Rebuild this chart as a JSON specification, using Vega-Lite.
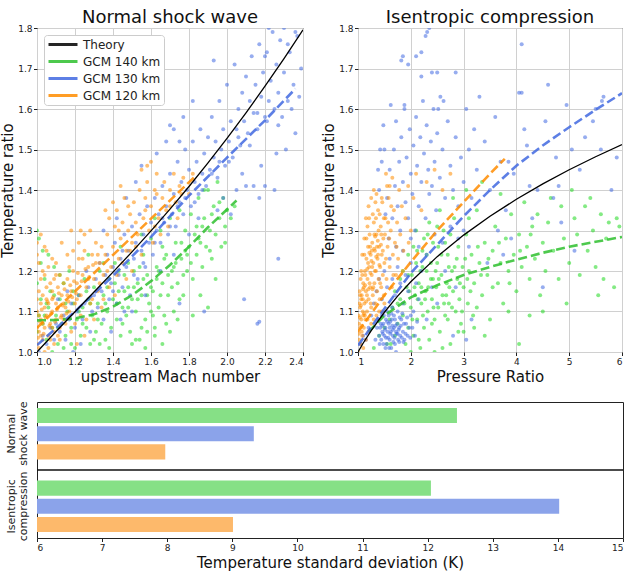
{
"$schema":"https://vega.github.io/schema/vega-lite/v6.json",
"padding":{"left":0,"top":8,"right":6,"bottom":2},
"config":{
 "font":"DejaVu Sans",
 "view":{"stroke":"#222","strokeWidth":1},
 "axis":{"labelFontSize":9,"labelColor":"#222","labelOverlap":false,"labelBound":false,"titleFontSize":15,"titleFontWeight":"normal","titleColor":"#111","gridColor":"#d0d0d0","gridWidth":1,"domain":false,"tickColor":"#222","tickSize":3.5,"labelPadding":1.5},
 "axisX":{"titlePadding":3},
 "axisY":{"titlePadding":2},
 "title":{"fontSize":18,"fontWeight":"normal","offset":-3,"color":"#111"},
 "legend":{"labelFontSize":12,"labelColor":"#222"}
},
"datasets":{
"L140":[{"x":1.00,"y":1.05},{"x":1.01,"y":1.09},{"x":1.02,"y":1.13},{"x":1.03,"y":1.07},{"x":1.04,"y":1.18},{"x":1.05,"y":1.03},{"x":1.06,"y":1.11},{"x":1.07,"y":1.15},{"x":1.08,"y":1.06},{"x":1.09,"y":1.21},{"x":1.10,"y":1.09},{"x":1.11,"y":1.02},{"x":1.12,"y":1.13},{"x":1.13,"y":1.07},{"x":1.14,"y":1.17},{"x":1.15,"y":1.04},{"x":1.16,"y":1.10},{"x":1.17,"y":1.20},{"x":1.18,"y":1.06},{"x":1.19,"y":1.12},{"x":1.20,"y":1.01},{"x":1.00,"y":1.30},{"x":1.01,"y":1.28},{"x":1.02,"y":1.22},{"x":1.00,"y":1.17},{"x":1.06,"y":1.24},{"x":1.12,"y":1.19},{"x":1.08,"y":1.00},{"x":1.14,"y":1.01},{"x":1.18,"y":1.02},
{"x":1.21,"y":1.08},{"x":1.22,"y":1.14},{"x":1.23,"y":1.04},{"x":1.24,"y":1.11},{"x":1.25,"y":1.18},{"x":1.26,"y":1.06},{"x":1.27,"y":1.13},{"x":1.28,"y":1.02},{"x":1.29,"y":1.09},{"x":1.30,"y":1.16},{"x":1.31,"y":1.05},{"x":1.32,"y":1.12},{"x":1.33,"y":1.20},{"x":1.34,"y":1.07},{"x":1.35,"y":1.14},{"x":1.36,"y":1.03},{"x":1.37,"y":1.10},{"x":1.38,"y":1.18},{"x":1.39,"y":1.06},{"x":1.40,"y":1.13},{"x":1.41,"y":1.22},{"x":1.42,"y":1.08},{"x":1.43,"y":1.15},{"x":1.44,"y":1.04},{"x":1.45,"y":1.11},{"x":1.46,"y":1.19},{"x":1.47,"y":1.09},{"x":1.48,"y":1.16},{"x":1.49,"y":1.05},{"x":1.50,"y":1.13},{"x":1.27,"y":1.24},{"x":1.33,"y":1.02},{"x":1.38,"y":1.01},{"x":1.44,"y":1.26},{"x":1.48,"y":1.22},{"x":1.30,"y":1.03},{"x":1.35,"y":1.22},
{"x":1.51,"y":1.20},{"x":1.52,"y":1.10},{"x":1.53,"y":1.17},{"x":1.54,"y":1.03},{"x":1.55,"y":1.14},{"x":1.56,"y":1.24},{"x":1.57,"y":1.08},{"x":1.58,"y":1.19},{"x":1.59,"y":1.12},{"x":1.60,"y":1.28},{"x":1.61,"y":1.15},{"x":1.62,"y":1.06},{"x":1.63,"y":1.21},{"x":1.64,"y":1.11},{"x":1.65,"y":1.30},{"x":1.66,"y":1.17},{"x":1.67,"y":1.09},{"x":1.68,"y":1.24},{"x":1.69,"y":1.14},{"x":1.70,"y":1.33},{"x":1.71,"y":1.20},{"x":1.72,"y":1.10},{"x":1.73,"y":1.27},{"x":1.74,"y":1.17},{"x":1.75,"y":1.35},{"x":1.76,"y":1.23},{"x":1.77,"y":1.14},{"x":1.78,"y":1.30},{"x":1.79,"y":1.20},{"x":1.80,"y":1.26},{"x":1.52,"y":1.03},{"x":1.57,"y":1.01},{"x":1.62,"y":1.04},{"x":1.68,"y":1.07},{"x":1.55,"y":1.29},{"x":1.62,"y":1.33},{"x":1.70,"y":1.05},{"x":1.74,"y":1.08},{"x":1.50,"y":1.02},{"x":1.58,"y":1.05},{"x":1.66,"y":1.02},
{"x":1.81,"y":1.34},{"x":1.82,"y":1.18},{"x":1.83,"y":1.29},{"x":1.84,"y":1.24},{"x":1.85,"y":1.38},{"x":1.86,"y":1.27},{"x":1.87,"y":1.21},{"x":1.88,"y":1.33},{"x":1.89,"y":1.26},{"x":1.90,"y":1.40},{"x":1.91,"y":1.30},{"x":1.92,"y":1.23},{"x":1.93,"y":1.36},{"x":1.94,"y":1.29},{"x":1.95,"y":1.42},{"x":1.96,"y":1.33},{"x":1.97,"y":1.26},{"x":1.98,"y":1.38},{"x":1.99,"y":1.31},{"x":2.00,"y":1.35},{"x":2.02,"y":1.33},{"x":2.04,"y":1.36},{"x":1.90,"y":1.11},{"x":1.86,"y":1.14},{"x":1.82,"y":1.09},{"x":1.88,"y":1.40},{"x":1.94,"y":1.18},
{"x":1.04,"y":1.09},{"x":1.09,"y":1.14},{"x":1.15,"y":1.12},{"x":1.22,"y":1.10},{"x":1.26,"y":1.15},{"x":1.32,"y":1.08},{"x":1.37,"y":1.16},{"x":1.42,"y":1.12},{"x":1.46,"y":1.15},{"x":1.53,"y":1.13},{"x":1.56,"y":1.18},{"x":1.60,"y":1.16},{"x":1.64,"y":1.20},{"x":1.67,"y":1.23},{"x":1.72,"y":1.21},{"x":1.76,"y":1.27},{"x":1.79,"y":1.24},{"x":1.84,"y":1.31},{"x":1.92,"y":1.34},{"x":1.60,"y":1.10},{"x":1.65,"y":1.14},{"x":1.71,"y":1.16},{"x":1.77,"y":1.19},
{"x":1.36,"y":1.12},{"x":1.41,"y":1.17},{"x":1.45,"y":1.07},{"x":1.51,"y":1.16},{"x":1.54,"y":1.21},{"x":1.58,"y":1.14},{"x":1.63,"y":1.18},{"x":1.66,"y":1.26},{"x":1.69,"y":1.19},{"x":1.73,"y":1.22},{"x":1.75,"y":1.13},{"x":1.78,"y":1.25},{"x":1.81,"y":1.22},{"x":1.85,"y":1.28},{"x":1.87,"y":1.31},{"x":1.91,"y":1.25},{"x":1.96,"y":1.37},{"x":1.99,"y":1.27},{"x":1.55,"y":1.06},{"x":1.61,"y":1.09},{"x":1.28,"y":1.12},{"x":1.24,"y":1.07},{"x":1.19,"y":1.15},{"x":1.11,"y":1.06},{"x":1.05,"y":1.12},{"x":1.03,"y":1.25},{"x":1.43,"y":1.20},{"x":1.48,"y":1.11}],
"L130":[{"x":1.01,"y":1.00},{"x":1.03,"y":1.04},{"x":1.05,"y":1.02},{"x":1.07,"y":1.06},{"x":1.09,"y":1.03},{"x":1.10,"y":1.07},{"x":1.12,"y":1.05},{"x":1.14,"y":1.09},{"x":1.15,"y":1.03},{"x":1.17,"y":1.08},{"x":1.18,"y":1.12},{"x":1.20,"y":1.06},{"x":1.21,"y":1.10},{"x":1.22,"y":1.14},{"x":1.24,"y":1.08},{"x":1.25,"y":1.12},{"x":1.27,"y":1.16},{"x":1.28,"y":1.05},{"x":1.29,"y":1.10},{"x":1.30,"y":1.14},{"x":1.26,"y":1.20},{"x":1.23,"y":1.02},{"x":1.19,"y":1.00},{"x":1.11,"y":1.13},{"x":1.16,"y":1.15},
{"x":1.31,"y":1.18},{"x":1.32,"y":1.11},{"x":1.33,"y":1.22},{"x":1.34,"y":1.15},{"x":1.35,"y":1.08},{"x":1.36,"y":1.19},{"x":1.37,"y":1.24},{"x":1.38,"y":1.13},{"x":1.39,"y":1.17},{"x":1.40,"y":1.21},{"x":1.41,"y":1.27},{"x":1.42,"y":1.12},{"x":1.43,"y":1.19},{"x":1.44,"y":1.23},{"x":1.45,"y":1.16},{"x":1.46,"y":1.29},{"x":1.47,"y":1.21},{"x":1.48,"y":1.25},{"x":1.49,"y":1.14},{"x":1.50,"y":1.31},{"x":1.51,"y":1.23},{"x":1.52,"y":1.27},{"x":1.53,"y":1.18},{"x":1.54,"y":1.34},{"x":1.55,"y":1.25},{"x":1.56,"y":1.29},{"x":1.57,"y":1.21},{"x":1.58,"y":1.36},{"x":1.59,"y":1.27},{"x":1.60,"y":1.32},{"x":1.42,"y":1.33},{"x":1.47,"y":1.38},{"x":1.52,"y":1.42},{"x":1.55,"y":1.46},{"x":1.35,"y":1.30},{"x":1.44,"y":1.08},{"x":1.50,"y":1.10},{"x":1.57,"y":1.14},{"x":1.39,"y":1.05},{"x":1.46,"y":1.10},
{"x":1.61,"y":1.24},{"x":1.62,"y":1.38},{"x":1.63,"y":1.30},{"x":1.64,"y":1.34},{"x":1.65,"y":1.27},{"x":1.66,"y":1.41},{"x":1.67,"y":1.32},{"x":1.68,"y":1.36},{"x":1.69,"y":1.29},{"x":1.70,"y":1.44},{"x":1.71,"y":1.34},{"x":1.72,"y":1.39},{"x":1.73,"y":1.31},{"x":1.74,"y":1.47},{"x":1.75,"y":1.37},{"x":1.76,"y":1.42},{"x":1.77,"y":1.34},{"x":1.78,"y":1.50},{"x":1.79,"y":1.40},{"x":1.80,"y":1.45},{"x":1.81,"y":1.36},{"x":1.82,"y":1.52},{"x":1.83,"y":1.42},{"x":1.84,"y":1.47},{"x":1.85,"y":1.39},{"x":1.86,"y":1.55},{"x":1.87,"y":1.44},{"x":1.88,"y":1.49},{"x":1.89,"y":1.41},{"x":1.90,"y":1.53},{"x":1.63,"y":1.49},{"x":1.68,"y":1.52},{"x":1.72,"y":1.55},{"x":1.77,"y":1.58},{"x":1.82,"y":1.62},{"x":1.65,"y":1.20},{"x":1.72,"y":1.24},{"x":1.80,"y":1.29},{"x":1.85,"y":1.33},{"x":1.70,"y":1.56},{"x":1.75,"y":1.52},
{"x":1.91,"y":1.45},{"x":1.92,"y":1.58},{"x":1.93,"y":1.48},{"x":1.94,"y":1.52},{"x":1.95,"y":1.43},{"x":1.96,"y":1.62},{"x":1.97,"y":1.50},{"x":1.98,"y":1.55},{"x":1.99,"y":1.46},{"x":2.00,"y":1.66},{"x":2.01,"y":1.52},{"x":2.02,"y":1.57},{"x":2.03,"y":1.48},{"x":2.04,"y":1.71},{"x":2.05,"y":1.55},{"x":2.06,"y":1.60},{"x":2.07,"y":1.51},{"x":2.08,"y":1.64},{"x":2.09,"y":1.57},{"x":2.10,"y":1.68},{"x":2.11,"y":1.54},{"x":2.12,"y":1.62},{"x":2.13,"y":1.73},{"x":2.14,"y":1.59},{"x":2.15,"y":1.66},{"x":2.16,"y":1.55},{"x":2.17,"y":1.76},{"x":2.18,"y":1.63},{"x":2.19,"y":1.69},{"x":2.20,"y":1.58},{"x":2.21,"y":1.74},{"x":2.22,"y":1.62},{"x":2.23,"y":1.67},{"x":2.24,"y":1.79},{"x":2.25,"y":1.60},{"x":2.26,"y":1.71},{"x":2.27,"y":1.64},{"x":2.28,"y":1.77},{"x":2.29,"y":1.58},{"x":2.30,"y":1.69},{"x":2.32,"y":1.62},{"x":2.33,"y":1.74},{"x":2.35,"y":1.66},{"x":2.37,"y":1.78},{"x":2.38,"y":1.63},{"x":2.39,"y":1.70},{"x":1.93,"y":1.72},{"x":2.05,"y":1.40},{"x":2.10,"y":1.41},{"x":2.14,"y":1.41},{"x":2.20,"y":1.41},{"x":2.25,"y":1.40},{"x":2.17,"y":1.38},{"x":2.08,"y":1.44},{"x":2.18,"y":1.46},{"x":2.31,"y":1.50},{"x":2.36,"y":1.54},{"x":2.26,"y":1.49},{"x":1.98,"y":1.38},
{"x":2.09,"y":1.13},{"x":2.16,"y":1.07},{"x":2.17,"y":1.075},{"x":2.27,"y":1.23},{"x":1.88,"y":1.10},{"x":1.75,"y":1.12},{"x":2.02,"y":1.34},{"x":1.95,"y":1.35},{"x":2.22,"y":1.80},{"x":2.36,"y":1.79},{"x":2.30,"y":1.80},{"x":2.32,"y":1.76},{"x":2.20,"y":1.73},
{"x":1.62,"y":1.27},{"x":1.66,"y":1.33},{"x":1.70,"y":1.31},{"x":1.74,"y":1.36},{"x":1.78,"y":1.38},{"x":1.83,"y":1.37},{"x":1.87,"y":1.40},{"x":1.92,"y":1.44},{"x":1.96,"y":1.47},{"x":2.01,"y":1.47},{"x":2.06,"y":1.53},{"x":2.12,"y":1.51},{"x":2.16,"y":1.59},{"x":2.21,"y":1.57},{"x":2.27,"y":1.56},{"x":2.34,"y":1.60},{"x":1.56,"y":1.22},{"x":1.51,"y":1.19},{"x":1.45,"y":1.25},{"x":1.40,"y":1.15}],
"L120":[{"x":1.00,"y":1.02},{"x":1.01,"y":1.05},{"x":1.02,"y":1.08},{"x":1.00,"y":1.10},{"x":1.03,"y":1.03},{"x":1.04,"y":1.06},{"x":1.05,"y":1.09},{"x":1.02,"y":1.12},{"x":1.06,"y":1.04},{"x":1.07,"y":1.07},{"x":1.08,"y":1.10},{"x":1.03,"y":1.14},{"x":1.09,"y":1.05},{"x":1.10,"y":1.08},{"x":1.11,"y":1.11},{"x":1.05,"y":1.13},{"x":1.12,"y":1.06},{"x":1.13,"y":1.09},{"x":1.14,"y":1.12},{"x":1.08,"y":1.15},{"x":1.01,"y":1.01},{"x":1.04,"y":1.00},{"x":1.06,"y":1.01},{"x":1.09,"y":1.02},{"x":1.12,"y":1.03},{"x":1.15,"y":1.07},{"x":1.00,"y":1.06},{"x":1.01,"y":1.09},{"x":1.02,"y":1.04},{"x":1.03,"y":1.07},{"x":1.04,"y":1.11},{"x":1.06,"y":1.12},{"x":1.07,"y":1.03},{"x":1.08,"y":1.06},{"x":1.10,"y":1.12},{"x":1.11,"y":1.04},{"x":1.13,"y":1.14},{"x":1.14,"y":1.08},{"x":1.05,"y":1.16},{"x":1.07,"y":1.17},{"x":1.00,"y":1.13},{"x":1.01,"y":1.15},{"x":1.02,"y":1.18},{"x":1.09,"y":1.18},{"x":1.11,"y":1.16},{"x":1.15,"y":1.11},{"x":1.16,"y":1.14},{"x":1.12,"y":1.19},{"x":1.03,"y":1.20},{"x":1.06,"y":1.21},
{"x":1.00,"y":1.27},{"x":1.02,"y":1.29},{"x":1.05,"y":1.25},{"x":1.01,"y":1.22},{"x":1.08,"y":1.23},{"x":1.04,"y":1.26},{"x":1.10,"y":1.22},{"x":1.13,"y":1.27},{"x":1.18,"y":1.30},{"x":1.00,"y":1.24},
{"x":1.17,"y":1.10},{"x":1.18,"y":1.15},{"x":1.19,"y":1.20},{"x":1.20,"y":1.12},{"x":1.21,"y":1.17},{"x":1.22,"y":1.23},{"x":1.23,"y":1.14},{"x":1.24,"y":1.19},{"x":1.25,"y":1.25},{"x":1.26,"y":1.16},{"x":1.27,"y":1.21},{"x":1.28,"y":1.12},{"x":1.29,"y":1.24},{"x":1.30,"y":1.18},{"x":1.31,"y":1.27},{"x":1.32,"y":1.15},{"x":1.33,"y":1.22},{"x":1.34,"y":1.26},{"x":1.35,"y":1.19},{"x":1.20,"y":1.07},{"x":1.23,"y":1.09},{"x":1.26,"y":1.08},{"x":1.29,"y":1.13},{"x":1.16,"y":1.18},{"x":1.19,"y":1.25},{"x":1.22,"y":1.27},{"x":1.25,"y":1.29},{"x":1.28,"y":1.30},{"x":1.31,"y":1.22},{"x":1.33,"y":1.17},{"x":1.18,"y":1.05},{"x":1.21,"y":1.02},{"x":1.25,"y":1.04},{"x":1.30,"y":1.08},{"x":1.34,"y":1.11},{"x":1.23,"y":1.30},
{"x":1.36,"y":1.24},{"x":1.37,"y":1.29},{"x":1.38,"y":1.33},{"x":1.39,"y":1.21},{"x":1.40,"y":1.26},{"x":1.41,"y":1.31},{"x":1.42,"y":1.35},{"x":1.43,"y":1.23},{"x":1.44,"y":1.28},{"x":1.45,"y":1.32},{"x":1.46,"y":1.38},{"x":1.47,"y":1.25},{"x":1.48,"y":1.30},{"x":1.49,"y":1.34},{"x":1.50,"y":1.27},{"x":1.51,"y":1.37},{"x":1.52,"y":1.32},{"x":1.53,"y":1.29},{"x":1.54,"y":1.40},{"x":1.38,"y":1.16},{"x":1.42,"y":1.19},{"x":1.45,"y":1.22},{"x":1.49,"y":1.25},{"x":1.36,"y":1.35},{"x":1.40,"y":1.37},{"x":1.44,"y":1.41},{"x":1.41,"y":1.14},{"x":1.47,"y":1.18},
{"x":1.56,"y":1.33},{"x":1.57,"y":1.38},{"x":1.58,"y":1.42},{"x":1.59,"y":1.30},{"x":1.60,"y":1.36},{"x":1.62,"y":1.40},{"x":1.63,"y":1.44},{"x":1.64,"y":1.33},{"x":1.66,"y":1.38},{"x":1.67,"y":1.42},{"x":1.68,"y":1.35},{"x":1.70,"y":1.40},{"x":1.72,"y":1.44},{"x":1.73,"y":1.37},{"x":1.75,"y":1.41},{"x":1.77,"y":1.43},{"x":1.80,"y":1.39},{"x":1.82,"y":1.44},{"x":1.58,"y":1.46},{"x":1.61,"y":1.27},{"x":1.65,"y":1.29},{"x":1.69,"y":1.31},{"x":1.55,"y":1.45},{"x":1.60,"y":1.47},{"x":1.74,"y":1.33},{"x":1.35,"y":1.13},{"x":1.50,"y":1.20},{"x":1.55,"y":1.24},{"x":1.62,"y":1.31},
{"x":1.005,"y":1.035},{"x":1.015,"y":1.075},{"x":1.025,"y":1.105},{"x":1.035,"y":1.045},{"x":1.045,"y":1.085},{"x":1.055,"y":1.125},{"x":1.065,"y":1.065},{"x":1.075,"y":1.095},{"x":1.085,"y":1.135},{"x":1.095,"y":1.075},{"x":1.105,"y":1.105},{"x":1.115,"y":1.145},{"x":1.125,"y":1.085},{"x":1.135,"y":1.115},{"x":1.145,"y":1.155},{"x":1.155,"y":1.095},{"x":1.165,"y":1.125},{"x":1.175,"y":1.165},{"x":1.185,"y":1.135},{"x":1.195,"y":1.175},{"x":1.205,"y":1.145},{"x":1.215,"y":1.195},{"x":1.235,"y":1.175},{"x":1.255,"y":1.205},{"x":1.275,"y":1.185},{"x":1.295,"y":1.215},
{"x":1.14,"y":1.17},{"x":1.17,"y":1.21},{"x":1.21,"y":1.13},{"x":1.24,"y":1.23},{"x":1.27,"y":1.18},{"x":1.32,"y":1.24},{"x":1.37,"y":1.20},{"x":1.43,"y":1.30},{"x":1.48,"y":1.36},{"x":1.52,"y":1.26},{"x":1.57,"y":1.35},{"x":1.63,"y":1.39},{"x":1.70,"y":1.36},{"x":1.76,"y":1.39},{"x":1.10,"y":1.19},{"x":1.16,"y":1.24},{"x":1.04,"y":1.19},{"x":1.08,"y":1.13}],
"R140":[{"x":1.30,"y":1.01},{"x":1.40,"y":1.04},{"x":1.50,"y":1.06},{"x":1.55,"y":1.02},{"x":1.60,"y":1.08},{"x":1.65,"y":1.11},{"x":1.70,"y":1.04},{"x":1.75,"y":1.07},{"x":1.80,"y":1.13},{"x":1.85,"y":1.09},{"x":1.90,"y":1.02},{"x":1.92,"y":1.16},{"x":1.95,"y":1.06},{"x":2.00,"y":1.11},{"x":2.02,"y":1.19},{"x":2.05,"y":1.04},{"x":2.08,"y":1.14},{"x":2.10,"y":1.22},{"x":2.12,"y":1.08},{"x":2.15,"y":1.17},{"x":2.18,"y":1.01},{"x":2.20,"y":1.12},{"x":2.22,"y":1.25},{"x":2.25,"y":1.06},{"x":2.28,"y":1.15},{"x":2.30,"y":1.20},{"x":2.32,"y":1.10},{"x":2.35,"y":1.03},{"x":2.38,"y":1.18},{"x":2.40,"y":1.13},{"x":2.42,"y":1.27},{"x":2.45,"y":1.08},{"x":2.48,"y":1.16},{"x":2.50,"y":1.22},{"x":2.52,"y":1.11},{"x":2.55,"y":1.05},{"x":2.58,"y":1.19},{"x":2.60,"y":1.14},{"x":2.62,"y":1.30},{"x":2.65,"y":1.09},{"x":2.68,"y":1.17},{"x":2.70,"y":1.24},{"x":2.72,"y":1.12},{"x":2.75,"y":1.02},{"x":2.78,"y":1.20},{"x":2.80,"y":1.15},{"x":2.82,"y":1.33},{"x":2.85,"y":1.10},{"x":2.88,"y":1.18},{"x":2.90,"y":1.26},{"x":2.92,"y":1.13},{"x":2.95,"y":1.07},{"x":2.98,"y":1.21},{"x":3.00,"y":1.16},{"x":3.05,"y":1.29},{"x":3.08,"y":1.12},{"x":3.10,"y":1.20},{"x":3.15,"y":1.24},{"x":3.18,"y":1.09},{"x":3.20,"y":1.17},{"x":3.25,"y":1.35},{"x":3.30,"y":1.22},{"x":3.35,"y":1.14},{"x":3.40,"y":1.27},{"x":3.45,"y":1.19},{"x":3.50,"y":1.08},{"x":3.55,"y":1.25},{"x":3.60,"y":1.31},{"x":3.65,"y":1.17},{"x":3.70,"y":1.22},{"x":3.75,"y":1.12},{"x":3.80,"y":1.28},{"x":3.85,"y":1.20},{"x":3.90,"y":1.34},{"x":3.95,"y":1.24},{"x":4.00,"y":1.15},{"x":4.05,"y":1.29},{"x":4.10,"y":1.21},{"x":4.15,"y":1.37},{"x":4.20,"y":1.26},{"x":4.25,"y":1.18},{"x":4.30,"y":1.31},{"x":4.35,"y":1.23},{"x":4.40,"y":1.34},{"x":4.45,"y":1.14},{"x":4.50,"y":1.27},{"x":4.55,"y":1.20},{"x":4.60,"y":1.32},{"x":4.70,"y":1.25},{"x":4.80,"y":1.18},{"x":4.85,"y":1.36},{"x":4.90,"y":1.28},{"x":5.00,"y":1.22},{"x":5.10,"y":1.33},{"x":5.15,"y":1.29},{"x":5.20,"y":1.19},{"x":5.30,"y":1.36},{"x":5.35,"y":1.25},{"x":5.45,"y":1.30},{"x":5.50,"y":1.21},{"x":5.60,"y":1.34},{"x":5.65,"y":1.18},{"x":5.70,"y":1.28},{"x":5.75,"y":1.32},{"x":5.85,"y":1.16},{"x":5.90,"y":1.33},{"x":5.95,"y":1.31},{"x":5.55,"y":1.14},{"x":4.95,"y":1.12},{"x":4.65,"y":1.38},{"x":3.70,"y":1.39},{"x":3.35,"y":1.42},{"x":3.05,"y":1.40},{"x":2.80,"y":1.38},{"x":2.55,"y":1.35},{"x":2.35,"y":1.32},{"x":2.10,"y":1.30},{"x":1.85,"y":1.20},{"x":1.70,"y":1.15},{"x":1.62,"y":1.02},{"x":2.00,"y":1.00},{"x":2.15,"y":1.03},{"x":2.60,"y":1.01},{"x":3.00,"y":1.05},{"x":3.40,"y":1.04},{"x":4.05,"y":1.02},{"x":2.45,"y":1.00},{"x":1.95,"y":1.24},{"x":2.25,"y":1.28},{"x":2.50,"y":1.31},{"x":2.70,"y":1.08},{"x":2.90,"y":1.05},{"x":3.25,"y":1.11},{"x":3.55,"y":1.16},{"x":3.85,"y":1.10},{"x":4.50,"y":1.10},{"x":5.05,"y":1.40},{"x":5.40,"y":1.38},{"x":4.25,"y":1.09},{"x":3.10,"y":1.33},{"x":2.30,"y":1.24},{"x":2.65,"y":1.27},{"x":2.75,"y":1.29},{"x":2.05,"y":1.26},{"x":1.80,"y":1.18},{"x":2.40,"y":1.07},{"x":2.20,"y":1.16},{"x":3.20,"y":1.06},
{"x":1.88,"y":1.12},{"x":1.97,"y":1.15},{"x":2.03,"y":1.08},{"x":2.13,"y":1.13},{"x":2.23,"y":1.09},{"x":2.33,"y":1.16},{"x":2.43,"y":1.11},{"x":2.53,"y":1.18},{"x":2.63,"y":1.12},{"x":2.73,"y":1.16},{"x":2.83,"y":1.21},{"x":2.93,"y":1.17},{"x":3.03,"y":1.23},{"x":3.13,"y":1.15},{"x":2.18,"y":1.20},{"x":2.38,"y":1.22},{"x":2.58,"y":1.24},{"x":2.78,"y":1.11},{"x":2.97,"y":1.10},{"x":3.33,"y":1.19},
{"x":2.07,"y":1.16},{"x":2.27,"y":1.13},{"x":2.47,"y":1.20},{"x":2.67,"y":1.14},{"x":2.87,"y":1.23},{"x":3.07,"y":1.18},{"x":3.27,"y":1.26},{"x":3.47,"y":1.23},{"x":3.67,"y":1.27},{"x":3.87,"y":1.17},{"x":4.07,"y":1.25},{"x":4.27,"y":1.29},{"x":2.12,"y":1.25},{"x":2.32,"y":1.29},{"x":2.52,"y":1.26},{"x":2.72,"y":1.21},{"x":1.75,"y":1.12},{"x":1.95,"y":1.19},{"x":2.22,"y":1.21},{"x":2.42,"y":1.18}],
"R130":[{"x":1.40,"y":1.04},{"x":1.42,"y":1.06},{"x":1.44,"y":1.03},{"x":1.46,"y":1.05},{"x":1.48,"y":1.07},{"x":1.50,"y":1.04},{"x":1.52,"y":1.06},{"x":1.54,"y":1.02},{"x":1.56,"y":1.05},{"x":1.58,"y":1.07},{"x":1.60,"y":1.03},{"x":1.62,"y":1.05},{"x":1.64,"y":1.08},{"x":1.66,"y":1.04},{"x":1.68,"y":1.06},{"x":1.70,"y":1.02},{"x":1.72,"y":1.05},{"x":1.74,"y":1.07},{"x":1.76,"y":1.03},{"x":1.78,"y":1.06},{"x":1.80,"y":1.04},{"x":1.82,"y":1.08},{"x":1.85,"y":1.05},{"x":1.88,"y":1.03},{"x":1.91,"y":1.07},{"x":1.94,"y":1.04},{"x":1.97,"y":1.06},{"x":2.00,"y":1.09},{"x":1.45,"y":1.09},{"x":1.55,"y":1.10},{"x":1.65,"y":1.11},{"x":1.75,"y":1.10},{"x":1.52,"y":1.01},{"x":1.63,"y":1.01},{"x":1.72,"y":1.00},{"x":1.58,"y":1.09},{"x":1.68,"y":1.09},{"x":1.48,"y":1.02},{"x":1.60,"y":1.06},{"x":1.70,"y":1.08},
{"x":1.51,"y":1.055},{"x":1.57,"y":1.035},{"x":1.61,"y":1.075},{"x":1.67,"y":1.025},{"x":1.73,"y":1.045},{"x":1.79,"y":1.085},{"x":1.83,"y":1.035},{"x":1.47,"y":1.045},{"x":1.65,"y":1.065},{"x":1.77,"y":1.055},
{"x":1.33,"y":1.03},{"x":1.36,"y":1.06},{"x":1.39,"y":1.08},{"x":1.41,"y":1.02},{"x":1.43,"y":1.07},{"x":1.49,"y":1.09},{"x":1.53,"y":1.08},{"x":1.59,"y":1.01},{"x":1.61,"y":1.045},{"x":1.63,"y":1.095},{"x":1.69,"y":1.035},{"x":1.71,"y":1.065},{"x":1.75,"y":1.045},{"x":1.81,"y":1.065},{"x":1.84,"y":1.095},{"x":1.87,"y":1.07},{"x":1.90,"y":1.045},{"x":1.93,"y":1.085},{"x":1.99,"y":1.035},{"x":2.03,"y":1.06},{"x":2.08,"y":1.04},{"x":2.12,"y":1.075},{"x":1.55,"y":1.075},{"x":1.66,"y":1.055},{"x":1.78,"y":1.025},{"x":1.46,"y":1.065},{"x":1.53,"y":1.035},{"x":1.86,"y":1.025},
{"x":1.20,"y":1.06},{"x":1.25,"y":1.09},{"x":1.30,"y":1.12},{"x":1.35,"y":1.15},{"x":1.40,"y":1.18},{"x":1.45,"y":1.13},{"x":1.50,"y":1.20},{"x":1.55,"y":1.16},{"x":1.60,"y":1.23},{"x":1.65,"y":1.18},{"x":1.70,"y":1.14},{"x":1.75,"y":1.21},{"x":1.80,"y":1.17},{"x":1.85,"y":1.12},{"x":1.90,"y":1.19},{"x":1.95,"y":1.15},{"x":2.00,"y":1.22},{"x":2.05,"y":1.10},{"x":2.10,"y":1.17},{"x":2.15,"y":1.13},{"x":2.20,"y":1.20},{"x":2.30,"y":1.08},{"x":2.40,"y":1.16},{"x":2.50,"y":1.12},{"x":1.05,"y":1.02},{"x":1.10,"y":1.04},{"x":1.15,"y":1.03},
{"x":1.45,"y":1.47},{"x":1.50,"y":1.50},{"x":1.55,"y":1.38},{"x":1.60,"y":1.45},{"x":1.62,"y":1.61},{"x":1.65,"y":1.33},{"x":1.68,"y":1.50},{"x":1.70,"y":1.41},{"x":1.72,"y":1.57},{"x":1.75,"y":1.36},{"x":1.78,"y":1.47},{"x":1.80,"y":1.30},{"x":1.82,"y":1.53},{"x":1.85,"y":1.42},{"x":1.88,"y":1.60},{"x":1.90,"y":1.37},{"x":1.92,"y":1.48},{"x":1.95,"y":1.33},{"x":1.98,"y":1.55},{"x":2.00,"y":1.44},{"x":2.03,"y":1.39},{"x":2.05,"y":1.51},{"x":2.08,"y":1.30},{"x":2.10,"y":1.58},{"x":2.12,"y":1.46},{"x":2.15,"y":1.36},{"x":2.18,"y":1.53},{"x":2.20,"y":1.42},{"x":2.23,"y":1.62},{"x":2.25,"y":1.49},{"x":2.28,"y":1.33},{"x":2.30,"y":1.56},{"x":2.33,"y":1.45},{"x":2.35,"y":1.39},{"x":2.38,"y":1.52},{"x":2.40,"y":1.41},{"x":2.43,"y":1.60},{"x":2.45,"y":1.47},{"x":2.48,"y":1.35},{"x":2.50,"y":1.54},{"x":2.55,"y":1.43},{"x":2.60,"y":1.50},{"x":2.65,"y":1.38},{"x":2.70,"y":1.57},{"x":2.75,"y":1.46},{"x":2.80,"y":1.40},{"x":2.85,"y":1.53},{"x":2.90,"y":1.36},{"x":2.95,"y":1.48},{"x":3.00,"y":1.42},{"x":3.05,"y":1.60},{"x":3.10,"y":1.50},{"x":3.15,"y":1.38},{"x":3.20,"y":1.55},{"x":3.25,"y":1.45},{"x":3.30,"y":1.63},{"x":3.40,"y":1.52},{"x":3.50,"y":1.40},{"x":3.60,"y":1.58},{"x":3.70,"y":1.47},{"x":1.85,"y":1.25},{"x":2.00,"y":1.28},{"x":2.15,"y":1.26},{"x":2.30,"y":1.24},{"x":2.45,"y":1.29},{"x":2.60,"y":1.27},{"x":2.75,"y":1.31},{"x":2.90,"y":1.28},{"x":3.00,"y":1.30},{"x":3.10,"y":1.26},{"x":1.58,"y":1.28},{"x":1.72,"y":1.26},{"x":1.52,"y":1.34},{"x":1.48,"y":1.56},{"x":1.40,"y":1.40},{"x":1.42,"y":1.50},{"x":1.38,"y":1.45},{"x":2.62,"y":1.62},{"x":2.52,"y":1.60},{"x":2.20,"y":1.68},{"x":2.40,"y":1.69},
{"x":1.82,"y":1.72},{"x":1.85,"y":1.73},{"x":1.95,"y":1.71},{"x":2.10,"y":1.73},{"x":2.20,"y":1.74},{"x":2.28,"y":1.78},{"x":2.31,"y":1.79},{"x":2.35,"y":1.80},{"x":2.50,"y":1.69},{"x":2.85,"y":1.69},{"x":4.10,"y":1.76},{"x":2.56,"y":1.63},{"x":1.88,"y":1.61},
{"x":3.80,"y":1.35},{"x":3.95,"y":1.44},{"x":4.05,"y":1.64},{"x":4.10,"y":1.64},{"x":4.15,"y":1.55},{"x":4.20,"y":1.51},{"x":4.30,"y":1.33},{"x":4.40,"y":1.40},{"x":4.55,"y":1.57},{"x":4.60,"y":1.66},{"x":4.75,"y":1.48},{"x":4.80,"y":1.41},{"x":4.95,"y":1.61},{"x":5.05,"y":1.50},{"x":5.20,"y":1.45},{"x":5.30,"y":1.53},{"x":5.45,"y":1.57},{"x":5.60,"y":1.50},{"x":5.62,"y":1.62},{"x":5.65,"y":1.63},{"x":5.80,"y":1.40},{"x":5.90,"y":1.48},{"x":3.65,"y":1.30},{"x":3.90,"y":1.28},{"x":4.25,"y":1.41},{"x":3.85,"y":1.47},{"x":4.85,"y":1.32},{"x":5.50,"y":1.60},{"x":3.75,"y":1.24},{"x":4.50,"y":1.16},{"x":2.80,"y":1.04},{"x":3.15,"y":1.08},{"x":3.05,"y":1.03},{"x":2.65,"y":1.20},{"x":2.85,"y":1.16},{"x":3.45,"y":1.22},{"x":5.10,"y":1.25},{"x":4.70,"y":1.38}],
"R120":[{"x":1.00,"y":1.00},{"x":1.02,"y":1.03},{"x":1.04,"y":1.06},{"x":1.01,"y":1.09},{"x":1.03,"y":1.12},{"x":1.05,"y":1.02},{"x":1.06,"y":1.08},{"x":1.07,"y":1.14},{"x":1.08,"y":1.04},{"x":1.09,"y":1.10},{"x":1.10,"y":1.17},{"x":1.11,"y":1.06},{"x":1.12,"y":1.12},{"x":1.13,"y":1.20},{"x":1.14,"y":1.08},{"x":1.15,"y":1.15},{"x":1.16,"y":1.23},{"x":1.17,"y":1.10},{"x":1.18,"y":1.18},{"x":1.19,"y":1.26},{"x":1.20,"y":1.13},{"x":1.21,"y":1.21},{"x":1.22,"y":1.29},{"x":1.23,"y":1.16},{"x":1.24,"y":1.24},{"x":1.25,"y":1.11},{"x":1.26,"y":1.19},{"x":1.27,"y":1.27},{"x":1.28,"y":1.14},{"x":1.29,"y":1.22},{"x":1.30,"y":1.32},{"x":1.31,"y":1.17},{"x":1.32,"y":1.25},{"x":1.33,"y":1.12},{"x":1.34,"y":1.20},{"x":1.35,"y":1.29},{"x":1.36,"y":1.15},{"x":1.37,"y":1.23},{"x":1.38,"y":1.35},{"x":1.39,"y":1.18},{"x":1.40,"y":1.26},{"x":1.41,"y":1.13},{"x":1.42,"y":1.21},{"x":1.43,"y":1.31},{"x":1.44,"y":1.16},{"x":1.45,"y":1.24},{"x":1.46,"y":1.37},{"x":1.47,"y":1.19},{"x":1.48,"y":1.28},{"x":1.49,"y":1.14},{"x":1.50,"y":1.22},{"x":1.52,"y":1.33},{"x":1.54,"y":1.18},{"x":1.56,"y":1.26},{"x":1.58,"y":1.38},{"x":1.60,"y":1.21},{"x":1.62,"y":1.30},{"x":1.64,"y":1.16},{"x":1.66,"y":1.24},{"x":1.68,"y":1.35},{"x":1.70,"y":1.27},{"x":1.72,"y":1.19},{"x":1.74,"y":1.32},{"x":1.76,"y":1.23},{"x":1.78,"y":1.40},{"x":1.80,"y":1.29},{"x":1.83,"y":1.36},{"x":1.86,"y":1.25},{"x":1.90,"y":1.33},{"x":1.95,"y":1.41},{"x":2.00,"y":1.30},{"x":2.05,"y":1.38},{"x":2.10,"y":1.44},{"x":2.20,"y":1.35},{"x":2.30,"y":1.42},{"x":2.45,"y":1.45},{"x":2.60,"y":1.40},{"x":2.75,"y":1.44},{"x":1.05,"y":1.18},{"x":1.08,"y":1.24},{"x":1.12,"y":1.28},{"x":1.15,"y":1.33},{"x":1.20,"y":1.36},{"x":1.25,"y":1.38},{"x":1.30,"y":1.40},{"x":1.35,"y":1.39},{"x":1.10,"y":1.01},{"x":1.15,"y":1.03},{"x":1.20,"y":1.05},{"x":1.25,"y":1.07},{"x":1.30,"y":1.08},{"x":1.35,"y":1.09},{"x":1.40,"y":1.10},{"x":1.45,"y":1.10},{"x":1.50,"y":1.12},{"x":1.03,"y":1.15},{"x":1.06,"y":1.20},{"x":1.18,"y":1.31},{"x":1.28,"y":1.34},{"x":1.33,"y":1.37},{"x":1.53,"y":1.44},{"x":1.60,"y":1.41},{"x":1.02,"y":1.07},{"x":1.04,"y":1.11},{"x":1.07,"y":1.05},{"x":1.09,"y":1.13},{"x":1.11,"y":1.16},{"x":1.13,"y":1.09},{"x":1.14,"y":1.19},{"x":1.17,"y":1.14},{"x":1.19,"y":1.22},{"x":1.22,"y":1.17},{"x":1.24,"y":1.12},{"x":1.26,"y":1.25},{"x":1.29,"y":1.16},{"x":1.32,"y":1.20},{"x":1.36,"y":1.26},{"x":1.39,"y":1.30},{"x":1.42,"y":1.17},{"x":1.47,"y":1.25},{"x":1.51,"y":1.29},{"x":1.57,"y":1.32},{"x":1.63,"y":1.36},{"x":1.67,"y":1.19},{"x":1.73,"y":1.26},{"x":1.85,"y":1.20},{"x":1.96,"y":1.27},{"x":1.45,"y":1.38},{"x":1.55,"y":1.41},{"x":1.65,"y":1.43},
{"x":1.015,"y":1.045},{"x":1.035,"y":1.085},{"x":1.055,"y":1.115},{"x":1.075,"y":1.065},{"x":1.095,"y":1.155},{"x":1.115,"y":1.095},{"x":1.135,"y":1.165},{"x":1.155,"y":1.125},{"x":1.175,"y":1.205},{"x":1.195,"y":1.155},{"x":1.215,"y":1.245},{"x":1.235,"y":1.195},{"x":1.255,"y":1.225},{"x":1.275,"y":1.155},{"x":1.305,"y":1.255},{"x":1.325,"y":1.285},{"x":1.345,"y":1.235},{"x":1.375,"y":1.275},{"x":1.405,"y":1.215},{"x":1.435,"y":1.265},
{"x":1.04,"y":1.14},{"x":1.08,"y":1.19},{"x":1.12,"y":1.24},{"x":1.16,"y":1.28},{"x":1.21,"y":1.33},{"x":1.23,"y":1.26},{"x":1.27,"y":1.21},{"x":1.31,"y":1.29},{"x":1.34,"y":1.33},{"x":1.38,"y":1.24},{"x":1.41,"y":1.34},{"x":1.44,"y":1.29},{"x":1.49,"y":1.33},{"x":1.53,"y":1.23},{"x":1.59,"y":1.28},{"x":1.10,"y":1.09},{"x":1.06,"y":1.13},{"x":1.18,"y":1.08}],
"Ltheory":[{"s":"Theory","x":1.0,"y":1.0},{"s":"Theory","x":1.1,"y":1.0507},{"s":"Theory","x":1.2,"y":1.0995},{"s":"Theory","x":1.3,"y":1.1481},{"s":"Theory","x":1.4,"y":1.1971},{"s":"Theory","x":1.5,"y":1.2473},{"s":"Theory","x":1.6,"y":1.2991},{"s":"Theory","x":1.7,"y":1.3528},{"s":"Theory","x":1.8,"y":1.4087},{"s":"Theory","x":1.9,"y":1.4668},{"s":"Theory","x":2.0,"y":1.5274},{"s":"Theory","x":2.1,"y":1.5905},{"s":"Theory","x":2.2,"y":1.6562},{"s":"Theory","x":2.3,"y":1.7245},{"s":"Theory","x":2.4,"y":1.7956}],
"Lfit":[{"s":"GCM 140 km","x":1.0,"y":1.078},{"s":"GCM 140 km","x":1.1,"y":1.079},{"s":"GCM 140 km","x":1.2,"y":1.083},{"s":"GCM 140 km","x":1.3,"y":1.093},{"s":"GCM 140 km","x":1.4,"y":1.112},{"s":"GCM 140 km","x":1.5,"y":1.14},{"s":"GCM 140 km","x":1.6,"y":1.175},{"s":"GCM 140 km","x":1.7,"y":1.215},{"s":"GCM 140 km","x":1.8,"y":1.26},{"s":"GCM 140 km","x":1.9,"y":1.308},{"s":"GCM 140 km","x":2.0,"y":1.352},{"s":"GCM 140 km","x":2.05,"y":1.374},
{"s":"GCM 130 km","x":1.0,"y":1.017},{"s":"GCM 130 km","x":1.2,"y":1.1},{"s":"GCM 130 km","x":1.4,"y":1.188},{"s":"GCM 130 km","x":1.6,"y":1.284},{"s":"GCM 130 km","x":1.8,"y":1.386},{"s":"GCM 130 km","x":2.0,"y":1.48},{"s":"GCM 130 km","x":2.2,"y":1.572},{"s":"GCM 130 km","x":2.36,"y":1.65},
{"s":"GCM 120 km","x":1.0,"y":1.06},{"s":"GCM 120 km","x":1.84,"y":1.437}],
"Rtheory":[{"s":"Theory","x":1,"y":1.0},{"s":"Theory","x":1.1,"y":1.0222},{"s":"Theory","x":1.25,"y":1.0528},{"s":"Theory","x":1.5,"y":1.0981},{"s":"Theory","x":1.75,"y":1.1379},{"s":"Theory","x":2,"y":1.1735},{"s":"Theory","x":2.5,"y":1.2355},{"s":"Theory","x":3,"y":1.2886},{"s":"Theory","x":3.5,"y":1.3353},{"s":"Theory","x":4,"y":1.3771},{"s":"Theory","x":4.5,"y":1.415},{"s":"Theory","x":5,"y":1.4499},{"s":"Theory","x":5.5,"y":1.4821},{"s":"Theory","x":6,"y":1.512}],
"Rfit":[{"s":"GCM 140 km","x":1.2,"y":1.05},{"s":"GCM 140 km","x":1.5,"y":1.09},{"s":"GCM 140 km","x":2,"y":1.135},{"s":"GCM 140 km","x":2.5,"y":1.165},{"s":"GCM 140 km","x":3,"y":1.19},{"s":"GCM 140 km","x":3.5,"y":1.21},{"s":"GCM 140 km","x":4,"y":1.228},{"s":"GCM 140 km","x":4.5,"y":1.245},{"s":"GCM 140 km","x":5,"y":1.26},{"s":"GCM 140 km","x":5.5,"y":1.272},{"s":"GCM 140 km","x":6,"y":1.284},
{"s":"GCM 130 km","x":1,"y":1.016},{"s":"GCM 130 km","x":1.5,"y":1.107},{"s":"GCM 130 km","x":2,"y":1.195},{"s":"GCM 130 km","x":2.5,"y":1.265},{"s":"GCM 130 km","x":3,"y":1.335},{"s":"GCM 130 km","x":3.5,"y":1.40},{"s":"GCM 130 km","x":4,"y":1.46},{"s":"GCM 130 km","x":4.5,"y":1.51},{"s":"GCM 130 km","x":5,"y":1.555},{"s":"GCM 130 km","x":5.5,"y":1.598},{"s":"GCM 130 km","x":6,"y":1.639},
{"s":"GCM 120 km","x":1,"y":1.05},{"s":"GCM 120 km","x":1.5,"y":1.14},{"s":"GCM 120 km","x":2,"y":1.222},{"s":"GCM 120 km","x":2.5,"y":1.30},{"s":"GCM 120 km","x":3,"y":1.37},{"s":"GCM 120 km","x":3.5,"y":1.44},{"s":"GCM 120 km","x":3.78,"y":1.477}],
"bars":[{"slot":"N140","alt":"140","v":12.45},{"slot":"N130","alt":"130","v":9.33},{"slot":"N120","alt":"120","v":7.97},{"slot":"I140","alt":"140","v":12.05},{"slot":"I130","alt":"130","v":14.02},{"slot":"I120","alt":"120","v":9.01}],
"glab":[{"slot":"N130","l1":"Normal","l2":"shock wave"},{"slot":"I130","l1":"Isentropic","l2":"compression"}]
},
"vconcat":[
 {"hconcat":[
  {"width":266,"height":324,
   "title":{"text":"Normal shock wave"},
   "encoding":{
     "x":{"field":"x","type":"quantitative","scale":{"domain":[1,2.4]},"axis":{"title":"upstream Mach number","values":[1,1.2,1.4,1.6,1.8,2,2.2,2.4],"format":".1f","labelOverlap":false,"labelSeparation":0}},
     "y":{"field":"y","type":"quantitative","scale":{"domain":[1,1.8]},"axis":{"title":"Temperature ratio","values":[1,1.1,1.2,1.3,1.4,1.5,1.6,1.7,1.8],"format":".1f","labelOverlap":false}}},
   "layer":[
    {"data":{"name":"L140"},"mark":{"type":"circle","size":16,"opacity":0.55,"color":"#1fd81f","clip":true}},
    {"data":{"name":"L130"},"mark":{"type":"circle","size":16,"opacity":0.55,"color":"#4169e1","clip":true}},
    {"data":{"name":"L120"},"mark":{"type":"circle","size":16,"opacity":0.55,"color":"#ff8c00","clip":true}},
    {"data":{"name":"Lfit"},"mark":{"type":"line","strokeDash":[9,4],"strokeWidth":2.6,"opacity":0.85,"clip":true},
     "encoding":{
      "color":{"field":"s","type":"nominal","scale":{"domain":["Theory","GCM 140 km","GCM 130 km","GCM 120 km"],"range":["#000000","#2ec02e","#4169e1","#ff8c00"]},
       "legend":{"title":null,"orient":"top-left","offset":7,"padding":3,"fillColor":"white","strokeColor":"#cccccc","cornerRadius":3,"symbolType":"M-1,0L4.8,0","symbolSize":100,"symbolStrokeWidth":3,"labelOffset":23,"rowPadding":4,
        "encode":{"symbols":{"update":{"strokeDash":{"value":[]},"strokeWidth":{"signal":"datum.value === 'Theory' ? 1.2 : 3"},"opacity":{"signal":"datum.value === 'Theory' ? 1 : 0.6"}}}}}}}},
    {"data":{"name":"Ltheory"},"mark":{"type":"line","strokeWidth":1.3,"clip":true},
     "encoding":{"color":{"field":"s","type":"nominal"}}}
   ]},
  {"width":264,"height":324,
   "title":{"text":"Isentropic compression"},
   "encoding":{
     "x":{"field":"x","type":"quantitative","scale":{"domain":[1,6]},"axis":{"title":"Pressure Ratio","values":[1,2,3,4,5,6],"format":"d","labelOverlap":false}},
     "y":{"field":"y","type":"quantitative","scale":{"domain":[1,1.8]},"axis":{"title":"Temperature ratio","values":[1,1.1,1.2,1.3,1.4,1.5,1.6,1.7,1.8],"format":".1f","labelOverlap":false}}},
   "layer":[
    {"data":{"name":"R140"},"mark":{"type":"circle","size":16,"opacity":0.55,"color":"#1fd81f","clip":true}},
    {"data":{"name":"R130"},"mark":{"type":"circle","size":16,"opacity":0.55,"color":"#4169e1","clip":true}},
    {"data":{"name":"R120"},"mark":{"type":"circle","size":16,"opacity":0.55,"color":"#ff8c00","clip":true}},
    {"data":{"name":"Rfit"},"mark":{"type":"line","strokeDash":[9,4],"strokeWidth":2.6,"opacity":0.85,"clip":true},
     "encoding":{
      "color":{"field":"s","type":"nominal","scale":{"domain":["Theory","GCM 140 km","GCM 130 km","GCM 120 km"],"range":["#000000","#2ec02e","#4169e1","#ff8c00"]},"legend":null}}},
    {"data":{"name":"Rtheory"},"mark":{"type":"line","strokeWidth":1.3,"clip":true},
     "encoding":{"color":{"field":"s","type":"nominal","legend":null}}}
   ]}
 ],"spacing":55,"bounds":"flush","resolve":{"scale":{"color":"independent"}}},
 {"width":586,"height":136,
  "layer":[
   {"data":{"name":"bars"},"mark":{"type":"bar"},
    "encoding":{
     "y":{"field":"slot","type":"nominal","scale":{"domain":["N140","N130","N120","gap","I140","I130","I120"],"paddingInner":0.17,"paddingOuter":0.33},
          "axis":{"title":null,"labels":false,"ticks":false,"grid":false}},
     "x":{"field":"v","type":"quantitative","scale":{"domain":[6,15]},"axis":{"title":"Temperature standard deviation (K)","values":[6,7,8,9,10,11,12,13,14,15],"format":"d","grid":false,"labelOverlap":false}},
     "x2":{"datum":6},
     "color":{"field":"alt","type":"nominal","scale":{"domain":["140","130","120"],"range":["#86e086","#8ba3ea","#fdb96b"]},"legend":null}}},
   {"data":{"values":[{}]},"mark":{"type":"rule","color":"#111","strokeWidth":1.6},
    "encoding":{"y":{"datum":"gap","type":"nominal"}}},
   {"data":{"name":"glab"},"mark":{"type":"text","angle":270,"fontSize":11,"align":"center","baseline":"middle","color":"#222"},
    "encoding":{"y":{"field":"slot","type":"nominal"},"x":{"datum":5.611,"type":"quantitative"},"text":{"field":"l1"}}},
   {"data":{"name":"glab"},"mark":{"type":"text","angle":270,"fontSize":11,"align":"center","baseline":"middle","color":"#222"},
    "encoding":{"y":{"field":"slot","type":"nominal"},"x":{"datum":5.805,"type":"quantitative"},"text":{"field":"l2"}}}
  ]}
],
"spacing":16,
"resolve":{"scale":{"color":"independent"}}
}
